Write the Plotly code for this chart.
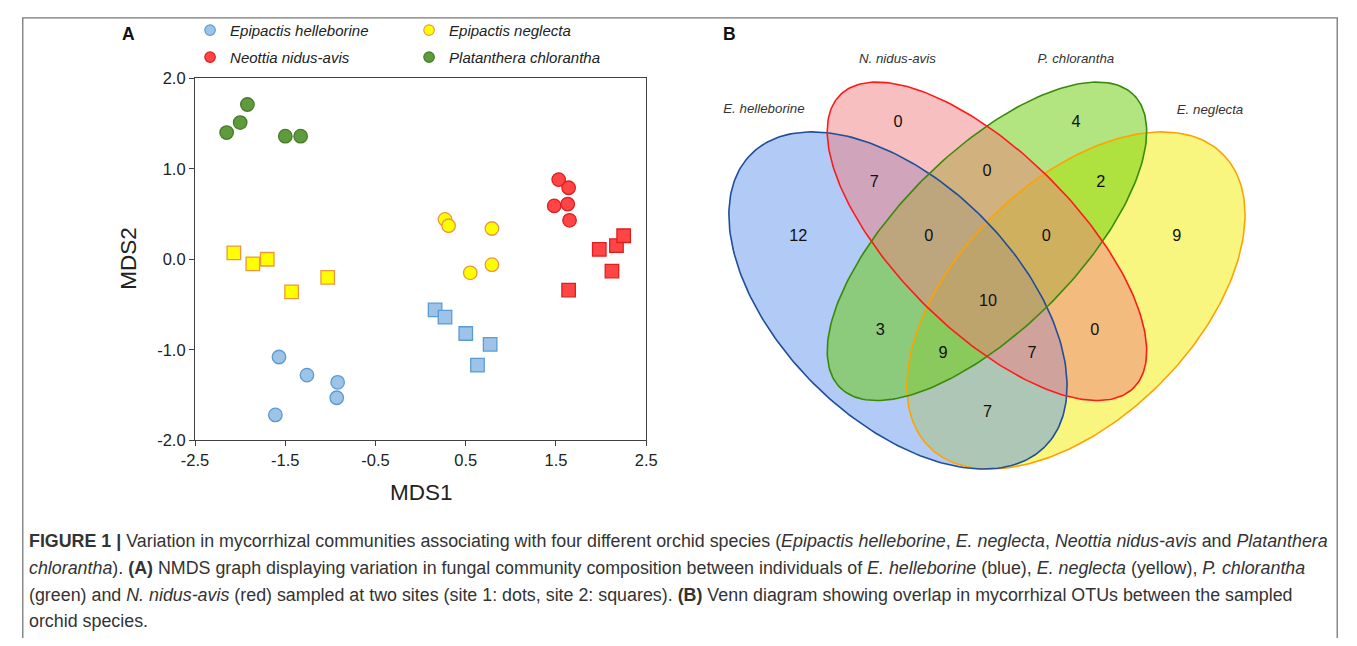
import numpy as np
import plotly.graph_objects as go

# figure size; the photographed page shows the figure with a small border,
# so target (screen) pixels are mapped back to figure pixels below
W, H = 1341, 630
SX, AX = 0.981, 21.0
SY, AY = 0.974, 15.6

# ---------------- Panel A data (NMDS) ----------------
species = ["Epipactis helleborine", "Epipactis neglecta",
           "Neottia nidus-avis", "Platanthera chlorantha"]

eh_site1_x = [-1.57, -1.26, -0.92, -0.93, -1.61]
eh_site1_y = [-1.08, -1.28, -1.36, -1.53, -1.72]
eh_site2_x = [0.16, 0.27, 0.50, 0.77, 0.63]
eh_site2_y = [-0.56, -0.64, -0.82, -0.94, -1.17]

en_site1_x = [0.27, 0.31, 0.79, 0.55, 0.79]
en_site1_y = [0.44, 0.37, 0.34, -0.15, -0.06]
en_site2_x = [-2.07, -1.86, -1.70, -1.43, -1.03]
en_site2_y = [0.07, -0.05, 0.00, -0.36, -0.20]

nn_site1_x = [1.53, 1.64, 1.48, 1.63, 1.65]
nn_site1_y = [0.88, 0.79, 0.59, 0.61, 0.43]
nn_site2_x = [1.98, 2.17, 2.25, 2.12, 1.64]
nn_site2_y = [0.11, 0.15, 0.26, -0.13, -0.34]

pc_site1_x = [-2.15, -2.00, -1.92, -1.50, -1.33]
pc_site1_y = [1.40, 1.51, 1.71, 1.36, 1.36]

x_tickvals = [-2.5, -1.5, -0.5, 0.5, 1.5, 2.5]
x_ticktext = ["-2.5", "-1.5", "-0.5", "0.5", "1.5", "2.5"]
y_tickvals = [-2.0, -1.0, 0.0, 1.0, 2.0]
y_ticktext = ["-2.0", "-1.0", "0.0", "1.0", "2.0"]

# ---------------- Panel B data (Venn) ----------------
venn_sets = ["E. helleborine", "N. nidus-avis", "P. chlorantha", "E. neglecta"]
venn_regions = ["N", "P", "EhN", "NP", "PEn", "Eh", "EhNP", "NPEn", "En",
                "All", "EhP", "NEn", "EhPEn", "EhNEn", "EhEn"]
venn_counts = [0, 4, 7, 0, 2, 12, 0, 0, 9, 10, 3, 0, 9, 7, 7]

# ---------------- styling / geometry ----------------
FONT = "Liberation Sans"


def px_x(p):
    return ((p - AX) / SX) / W


def px_y(p):
    return 1 - ((p - AY) / SY) / H


# panel A plot box (target pixels)
A_L, A_R, A_T, A_B = 194, 645, 77, 440
# venn axes placement (target pixels); x range [0,1], y range [0.1,0.94]
V_L, V_R, V_T, V_B = 689.1, 1282.1, 21.1, 519.2

venn_label_pos = [(0.350, 0.770), (0.650, 0.770), (0.310, 0.669), (0.500, 0.688),
                  (0.692, 0.669), (0.182, 0.578), (0.402, 0.578), (0.600, 0.578),
                  (0.820, 0.578), (0.502, 0.468), (0.320, 0.419), (0.682, 0.419),
                  (0.426, 0.380), (0.576, 0.380), (0.501, 0.280)]
set_label_pos = [(0.124, 0.792), (0.349, 0.877), (0.650, 0.877), (0.876, 0.791)]

ellipse_geom = {
    "E. helleborine": (0.35, 0.47, 0.35, 0.20, -45),
    "N. nidus-avis": (0.50, 0.57, 0.35, 0.15, -45),
    "P. chlorantha": (0.50, 0.57, 0.35, 0.15, 45),
    "E. neglecta": (0.65, 0.47, 0.35, 0.20, 45),
}
ellipse_fill = {
    "E. helleborine": "rgba(100,149,237,0.5)",
    "N. nidus-avis": "rgba(240,128,128,0.5)",
    "P. chlorantha": "rgba(102,204,0,0.5)",
    "E. neglecta": "rgba(242,238,0,0.5)",
}
ellipse_line = {
    "E. helleborine": "#1F4E9A",
    "N. nidus-avis": "#FF1A1A",
    "P. chlorantha": "#3A8A0A",
    "E. neglecta": "#FFA200",
}
draw_order = ["E. neglecta", "E. helleborine", "P. chlorantha", "N. nidus-avis"]

sp_fill = {
    "Epipactis helleborine": "#9DC3E6",
    "Epipactis neglecta": "#FFFF00",
    "Neottia nidus-avis": "#FF4545",
    "Platanthera chlorantha": "#5E9B3C",
}
sp_edge = {
    "Epipactis helleborine": "#5B9BD5",
    "Epipactis neglecta": "#F0963A",
    "Neottia nidus-avis": "#E01E1E",
    "Platanthera chlorantha": "#4A7A2C",
}

fig = go.Figure()

series = [
    ("Epipactis helleborine", eh_site1_x, eh_site1_y, "circle"),
    ("Epipactis helleborine", eh_site2_x, eh_site2_y, "square"),
    ("Epipactis neglecta", en_site1_x, en_site1_y, "circle"),
    ("Epipactis neglecta", en_site2_x, en_site2_y, "square"),
    ("Neottia nidus-avis", nn_site1_x, nn_site1_y, "circle"),
    ("Neottia nidus-avis", nn_site2_x, nn_site2_y, "square"),
    ("Platanthera chlorantha", pc_site1_x, pc_site1_y, "circle"),
]
for name, xs, ys, sym in series:
    fig.add_trace(go.Scatter(
        x=xs, y=ys, mode="markers", name=name, showlegend=False,
        marker=dict(symbol=sym, size=13.5, color=sp_fill[name],
                    line=dict(color=sp_edge[name], width=1.3)),
        xaxis="x", yaxis="y"))

for i, name in enumerate(species):
    fig.add_trace(go.Scatter(
        x=[None], y=[None], mode="markers", name=name,
        legend="legend" if i < 2 else "legend2",
        marker=dict(symbol="circle", size=10.5, color=sp_fill[name],
                    line=dict(color=sp_edge[name], width=1.2)),
        xaxis="x", yaxis="y"))

t = np.linspace(0, 2 * np.pi, 240)


def ellipse_pts(cx, cy, a, b, rot):
    r = np.deg2rad(rot)
    ex = cx + a * np.cos(t) * np.cos(r) - b * np.sin(t) * np.sin(r)
    ey = cy + a * np.cos(t) * np.sin(r) + b * np.sin(t) * np.cos(r)
    return ex, ey


for s in draw_order:
    ex, ey = ellipse_pts(*ellipse_geom[s])
    fig.add_trace(go.Scatter(x=ex, y=ey, mode="lines", fill="toself",
                             fillcolor=ellipse_fill[s], line=dict(width=0),
                             showlegend=False, hoverinfo="skip",
                             xaxis="x2", yaxis="y2"))
for s in draw_order:
    ex, ey = ellipse_pts(*ellipse_geom[s])
    fig.add_trace(go.Scatter(x=ex, y=ey, mode="lines",
                             line=dict(width=1.6, color=ellipse_line[s]),
                             showlegend=False, hoverinfo="skip",
                             xaxis="x2", yaxis="y2"))

fig.add_trace(go.Scatter(
    x=[p[0] for p in venn_label_pos], y=[p[1] for p in venn_label_pos],
    text=[str(c) for c in venn_counts], mode="text",
    textfont=dict(family=FONT, size=16.3, color="#111"),
    showlegend=False, hoverinfo="skip", xaxis="x2", yaxis="y2"))
fig.add_trace(go.Scatter(
    x=[p[0] for p in set_label_pos], y=[p[1] for p in set_label_pos],
    text=venn_sets, mode="text",
    textfont=dict(family=FONT, size=13.3, color="#333", style="italic"),
    showlegend=False, hoverinfo="skip", xaxis="x2", yaxis="y2"))

axis_col = "#404040"
legend_common = dict(xanchor="left", yanchor="middle", orientation="h",
                     entrywidth=174, entrywidthmode="pixels",
                     font=dict(family=FONT, size=15, color="#222", style="italic"),
                     bgcolor="rgba(0,0,0,0)", borderwidth=0)
fig.update_layout(
    width=W, height=H, margin=dict(l=0, r=0, t=0, b=0),
    paper_bgcolor="white", plot_bgcolor="white",
    font=dict(family=FONT, color="#222"),
    xaxis=dict(domain=[px_x(A_L), px_x(A_R)], range=[-2.5, 2.5],
               tickvals=x_tickvals, ticktext=x_ticktext,
               showgrid=False, zeroline=False, showline=True, mirror=True,
               linecolor=axis_col, linewidth=1.3, ticks="outside", ticklen=5,
               tickcolor=axis_col, tickwidth=1.3,
               tickfont=dict(family=FONT, size=16.5, color="#222"), anchor="y"),
    yaxis=dict(domain=[px_y(A_B), px_y(A_T)], range=[-2.0, 2.0],
               tickvals=y_tickvals, ticktext=y_ticktext,
               showgrid=False, zeroline=False, showline=True, mirror=True,
               linecolor=axis_col, linewidth=1.3, ticks="outside", ticklen=5,
               tickcolor=axis_col, tickwidth=1.3,
               tickfont=dict(family=FONT, size=16.5, color="#222"), anchor="x"),
    xaxis2=dict(domain=[px_x(V_L), px_x(V_R)], range=[0, 1], visible=False,
                anchor="y2"),
    yaxis2=dict(domain=[px_y(V_B), px_y(V_T)], range=[0.1, 0.94], visible=False,
                anchor="x2"),
    legend=dict(x=px_x(189), y=px_y(29), **legend_common),
    legend2=dict(x=px_x(189), y=px_y(56), **legend_common),
    showlegend=True,
)

ann = []
common = dict(showarrow=False, xref="paper", yref="paper",
              xanchor="center", yanchor="middle")
ann.append(dict(x=px_x(127), y=px_y(33), text="<b>A</b>",
                font=dict(size=17.5, color="#111"), **common))
ann.append(dict(x=px_x(728), y=px_y(33), text="<b>B</b>",
                font=dict(size=17.5, color="#111"), **common))
ann.append(dict(x=px_x(420), y=px_y(492), text="MDS1",
                font=dict(size=22.5, color="#222"), **common))
ann.append(dict(x=px_x(128), y=px_y(258), text="MDS2", textangle=-90,
                font=dict(size=22.5, color="#222"), **common))

caption_lines = [
    "<b>FIGURE 1 |</b> Variation in mycorrhizal communities associating with four different orchid species (<i>Epipactis helleborine</i>, <i>E. neglecta</i>, <i>Neottia nidus-avis</i> and <i>Platanthera</i>",
    "<i>chlorantha</i>). <b>(A)</b> NMDS graph displaying variation in fungal community composition between individuals of <i>E. helleborine</i> (blue), <i>E. neglecta</i> (yellow), <i>P. chlorantha</i>",
    "(green) and <i>N. nidus-avis</i> (red) sampled at two sites (site 1: dots, site 2: squares). <b>(B)</b> Venn diagram showing overlap in mycorrhizal OTUs between the sampled",
    "orchid species.",
]
caption_y = [541, 568, 595, 621]
for line, yy in zip(caption_lines, caption_y):
    ann.append(dict(x=px_x(26), y=px_y(yy), text=line, showarrow=False,
                    xref="paper", yref="paper", xanchor="left", yanchor="middle",
                    font=dict(family=FONT, size=17.85, color="#333")))
fig.update_layout(annotations=ann)

fig.add_shape(type="rect", xref="paper", yref="paper",
              x0=0.8 / W, x1=1 - 0.8 / W, y0=-0.05, y1=1 - 0.8 / H,
              line=dict(color="#777", width=1.3), fillcolor="rgba(0,0,0,0)",
              layer="below")

fig.write_html("out.html")
